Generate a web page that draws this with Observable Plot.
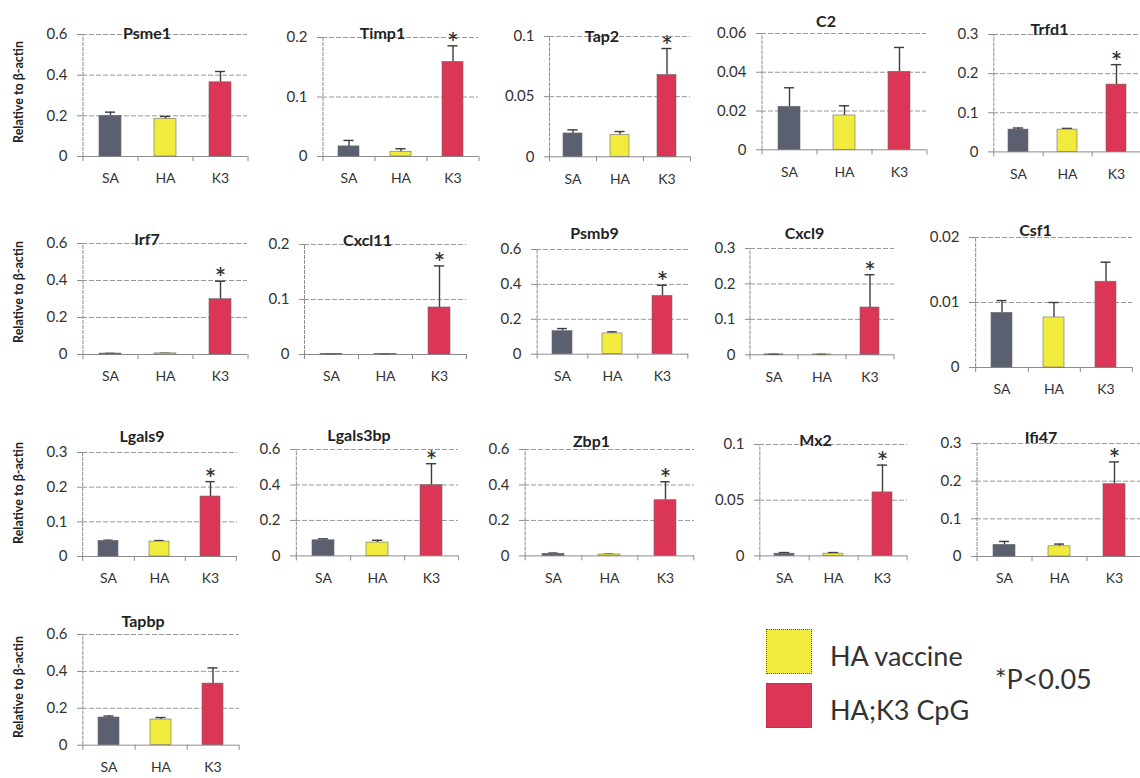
<!DOCTYPE html>
<html><head><meta charset="utf-8">
<script src="https://cdn.jsdelivr.net/npm/d3@7"></script>
<script src="https://cdn.jsdelivr.net/npm/@observablehq/plot@0.6"></script>
<style>
html,body{margin:0;padding:0;background:#fff;}
#root{position:relative;width:1140px;height:778px;overflow:hidden;background:#fff;font-family:Lato,"Open Sans",sans-serif;}
.panel{position:absolute;}
.ytitle{position:absolute;font-weight:bold;font-size:12.5px;color:#222;white-space:nowrap;transform:translate(-50%,-50%) rotate(-90deg);}
.sw{position:absolute;width:46px;height:45px;border:1px dotted #555;box-sizing:border-box;}
.lg{position:absolute;font-size:27px;color:#333;white-space:nowrap;transform:translateY(-50%);}
</style></head><body><div id="root"></div>
<script>
// ---- data ----
const genes = ["Psme1","Timp1","Tap2","C2","Trfd1","Irf7","Cxcl11","Psmb9","Cxcl9","Csf1","Lgals9","Lgals3bp","Zbp1","Mx2","Ifi47","Tapbp"];
const groups = ["SA","HA","K3"];
const saMean = [0.200,0.017,0.0194,0.0222,0.057,0.005,0.001,0.132,0.0012,0.0084,0.045,0.088,0.012,0.002,0.031,0.150];
const saErr  = [0.018,0.010,0.0030,0.0098,0.004,0.001,0.0005,0.015,0.0005,0.0019,0.002,0.008,0.004,0.001,0.009,0.008];
const haMean = [0.185,0.008,0.0180,0.0177,0.057,0.006,0.001,0.119,0.001,0.0077,0.043,0.075,0.008,0.002,0.027,0.139];
const haErr  = [0.012,0.005,0.0030,0.0050,0.003,0.001,0.0003,0.009,0.0003,0.0023,0.003,0.013,0.002,0.001,0.006,0.011];
const k3Mean = [0.365,0.159,0.068,0.0402,0.172,0.299,0.0855,0.334,0.1335,0.0132,0.173,0.399,0.314,0.057,0.192,0.334];
const k3Err  = [0.053,0.027,0.022,0.0126,0.051,0.097,0.0755,0.061,0.0925,0.0030,0.043,0.121,0.104,0.0245,0.059,0.085];
const significant = [false,true,true,false,true,true,true,true,true,false,true,true,true,true,true,false];
const yTicks = [[0,0.2,0.4,0.6],[0,0.1,0.2],[0,0.05,0.1],[0,0.02,0.04,0.06],[0,0.1,0.2,0.3],
                [0,0.2,0.4,0.6],[0,0.1,0.2],[0,0.2,0.4,0.6],[0,0.1,0.2,0.3],[0,0.01,0.02],
                [0,0.1,0.2,0.3],[0,0.2,0.4,0.6],[0,0.2,0.4,0.6],[0,0.05,0.1],[0,0.1,0.2,0.3],
                [0,0.2,0.4,0.6]];
const yTitle = "Relative to β-actin";
const legendLabels = ["HA vaccine","HA;K3 CpG"];
const pNote = "*P<0.05";

// ---- layout (page pixels: frame left, right, top, bottom, title centre y) ----
const layout = {
  Psme1:[82,247,34,156,33], Timp1:[322,478,36.7,155.7,33], Tap2:[549,690,35.7,156,36], C2:[761,926,32.7,149,21], Trfd1:[993,1141,34.3,151.7,30],
  Irf7:[82,247,243.3,354.3,240], Cxcl11:[304,466,244.3,354.3,241], Psmb9:[536,688,249.3,354,234], Cxcl9:[750,894,247.7,354,233], Csf1:[974,1132,237.3,367.3,231],
  Lgals9:[82,237,451.7,555.7,436], Lgals3bp:[295,458,449.3,555.7,436], Zbp1:[524,694,449.3,555.7,442], Mx2:[759,907,444.3,555.7,441], Ifi47:[976,1141,442.7,555.7,437],
  Tapbp:[82,239,634.3,745,622]
};
const rowTitleY = [92,292,493,687];
const colors = ["#5a6070","#f0eb3c","#dc3657"];
const axisGray = "#8c8c8c";

const root = document.getElementById("root");

function panel(i){
  const g = genes[i];
  const [L,R,T,B,TY] = layout[g];
  const ml=50, mr=8, mt=34, mb=32;
  const means = [saMean[i], haMean[i], k3Mean[i]];
  const errs = [saErr[i], haErr[i], k3Err[i]];
  const rows = groups.map((k,j)=>({group:k, mean:means[j], err:errs[j]}));
  const ticks = yTicks[i];
  const top = ticks[ticks.length-1];
  const step = (R-L)/3, bw = step*0.4, capInset = Math.max(0,(bw-10)/2);
  const stars = significant[i] ? rows.filter(d=>d.group==="K3") : [];
  const plot = Plot.plot({
    width: (R-L)+ml+mr, height: (B-T)+mt+mb,
    marginLeft: ml, marginRight: mr, marginTop: mt, marginBottom: mb,
    style:{background:"transparent", overflow:"visible", fontFamily:"Lato, 'Open Sans', sans-serif"},
    x:{domain:groups, type:"band", paddingInner:0.6, paddingOuter:0.3, label:null},
    y:{domain:[0, top], label:null},
    color:{domain:groups, range:colors},
    marks:[
      Plot.gridY(ticks.slice(1), {stroke:axisGray, strokeOpacity:1, strokeDasharray:"5,2", strokeWidth:0.9}),
      Plot.ruleY([0], {stroke:axisGray, strokeWidth:1}),
      Plot.ruleX(groups.slice(0,1), {x:d=>d, dx:-step/2, y1:0, y2:top, stroke:axisGray, strokeDasharray:"4,1"}),
      Plot.ruleX(groups, {x:d=>d, dx:step/2, y1:0, y2:0, insetBottom:-5, stroke:axisGray}),
      Plot.ruleX(groups.slice(0,1), {x:d=>d, dx:-step/2, y1:0, y2:0, insetBottom:-5, stroke:axisGray}),
      Plot.axisY(ticks, {label:null, tickSize:5, tickPadding:10, tickFormat:d=>String(d), fontSize:15, fill:"#333", stroke:axisGray}),
      Plot.axisX({label:null, tickSize:0, tickPadding:17, fontSize:14, fill:"#333"}),
      Plot.ruleX(rows, {x:"group", y1:"mean", y2:d=>d.mean+d.err, stroke:"#3c3c3c", strokeWidth:1.4}),
      Plot.tickY(rows, {x:"group", y:d=>d.mean+d.err, insetLeft:capInset, insetRight:capInset, stroke:"#3c3c3c", strokeWidth:1.4}),
      Plot.barY(rows, {x:"group", y:"mean", fill:"group", stroke:"#6b6b6b", strokeWidth:0.6}),
      Plot.text(stars, {x:"group", y:d=>d.mean+d.err, text:()=>"*", fontSize:27, fontWeight:600, fill:"#333", lineAnchor:"bottom", dy:6}),
      Plot.text([g], {frameAnchor:"top", text:d=>d, dx:-18, dy:TY-T, lineAnchor:"middle", fontSize:16, fontWeight:"bold", fill:"#222"})
    ]
  });
  plot.classList.add("panel");
  plot.style.left = (L-ml)+"px";
  plot.style.top = (T-mt)+"px";
  root.appendChild(plot);
}
genes.forEach((g,i)=>panel(i));

rowTitleY.forEach(y=>{
  const d = document.createElement("div");
  d.className = "ytitle"; d.textContent = yTitle;
  d.style.left = "18px"; d.style.top = y+"px";
  root.appendChild(d);
});

// legend
[[629,1],[683,2]].forEach(([y,ci],k)=>{
  const s = document.createElement("div");
  s.className = "sw"; s.style.left = "766px"; s.style.top = y+"px"; s.style.background = colors[ci];
  root.appendChild(s);
  const t = document.createElement("div");
  t.className = "lg"; t.textContent = legendLabels[k];
  t.style.left = "830px"; t.style.top = (y+26)+"px";
  root.appendChild(t);
});
const pn = document.createElement("div");
pn.className = "lg"; pn.textContent = pNote; pn.style.left = "995px"; pn.style.top = "678px";
root.appendChild(pn);
</script></body></html>
